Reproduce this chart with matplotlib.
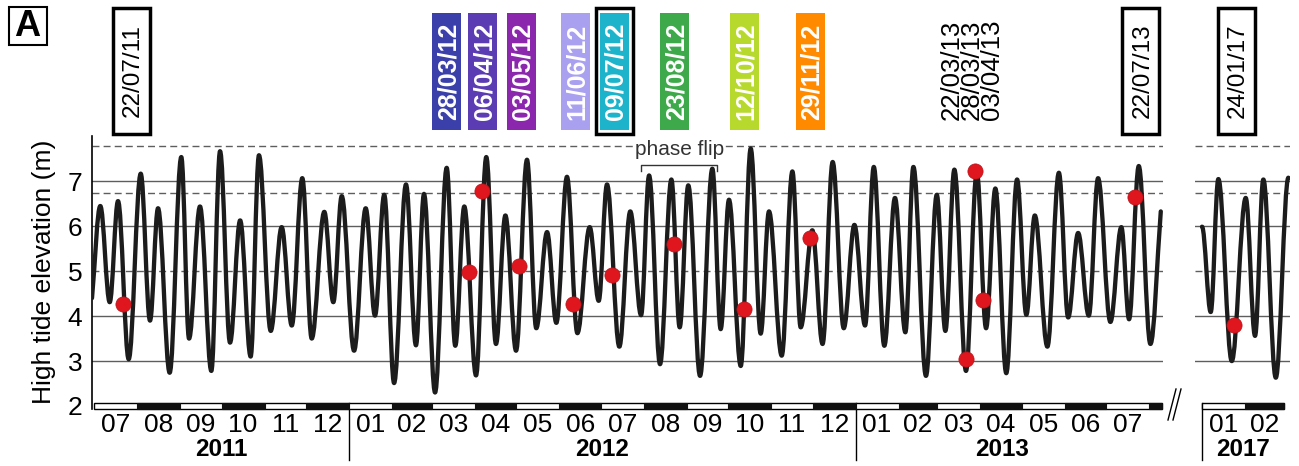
import numpy as np
import pandas as pd
import matplotlib
matplotlib.use('Agg')
import matplotlib.pyplot as plt
from matplotlib.patches import Rectangle, PathPatch
from matplotlib.path import Path
from matplotlib.lines import Line2D
import matplotlib.transforms as mtransforms

plt.rcParams['font.family'] = ['Liberation Sans', 'DejaVu Sans']

# ------------------------------------------------------------------ data
main_start = '2011-07-01'
p2_start = '2017-01-01'

# turning points of the predicted high-tide curve (days since 2011-07-01, m)
main_days = [-1.6, 4.4, 11.2, 17.2, 24.9, 33.6, 40.3, 46.1, 54.5, 62.9, 68.5, 76.4, 84.6,
             90.9, 98.1, 105.4, 113.0, 119.0, 127.5, 135.4, 142.7, 150.3, 157.1, 166.2,
             172.7, 178.8, 187.7, 196.1, 202.8, 209.5, 216.6, 225.2, 232.4, 238.2, 246.2,
             254.6, 260.8, 267.3, 275.8, 283.2, 290.2, 297.0, 304.7, 312.6, 319.3, 327.1,
             333.8, 341.5, 349.0, 357.9, 364.4, 370.4, 379.3, 387.2, 395.0, 400.8, 408.7,
             416.9, 422.9, 429.1, 437.6, 446.5, 452.5, 458.5, 467.0, 474.2, 481.4, 487.4,
             496.6, 504.3, 510.3, 518.7, 526.1, 533.4, 541.4, 549.1, 556.8, 563.1, 570.7,
             578.4, 585.9, 591.7, 600.8, 608.6, 614.8, 621.3, 629.7, 637.5, 644.2, 650.9,
             658.8, 666.6, 673.3, 679.4, 688.5, 696.8, 703.5, 710.7, 718.4, 725.1, 734.0,
             741.9, 747.5, 754.5, 762.9, 770.4]
main_vals = [4.40, 6.45, 4.31, 6.56, 3.04, 7.17, 3.90, 6.40, 2.74, 7.54, 3.50, 6.44, 2.78,
             7.67, 3.41, 6.13, 3.10, 7.58, 3.67, 5.98, 3.79, 7.07, 3.50, 6.32, 4.31, 6.67,
             3.23, 6.40, 4.01, 6.70, 2.51, 6.93, 3.35, 6.72, 2.30, 7.30, 3.34, 6.44, 2.68,
             7.54, 3.38, 6.24, 3.23, 7.48, 3.73, 5.87, 3.85, 7.10, 3.62, 5.98, 4.34, 6.93,
             3.32, 6.33, 4.02, 7.13, 2.93, 7.04, 3.75, 6.91, 2.67, 7.28, 3.71, 6.59, 2.89,
             7.73, 3.61, 6.33, 3.12, 7.22, 3.75, 5.91, 3.38, 7.43, 3.73, 6.03, 3.79, 7.32,
             3.34, 6.63, 3.64, 7.32, 2.67, 6.70, 3.67, 7.26, 2.78, 7.21, 3.73, 6.84, 2.73,
             7.04, 4.03, 6.24, 3.32, 7.19, 3.97, 5.85, 4.01, 7.07, 3.87, 5.98, 3.93, 7.34,
             3.38, 6.33]

# 2017 panel turning points (days since 2017-01-01, m)
p2_days = [0.0, 6.3, 11.8, 21.5, 31.6, 38.3, 44.3, 53.3, 62.4]
p2_vals = [5.99, 4.09, 7.05, 3.00, 6.63, 3.56, 7.04, 2.63, 7.08]

# sampled dates (red dots)
dot_dates = ['2011-07-22', '2012-03-28', '2012-04-06', '2012-05-03', '2012-06-11',
             '2012-07-09', '2012-08-23', '2012-10-12', '2012-11-29', '2013-03-22',
             '2013-03-28', '2013-04-03', '2013-07-22']
dot_vals = [4.27, 4.98, 6.78, 5.11, 4.27, 4.92, 5.60, 4.16, 5.73, 3.04, 7.22, 4.35, 6.66]
dot2_dates = ['2017-01-24']
dot2_vals = [3.80]

solid_levels = [3, 4, 6, 7]
dashed_levels = [5, 6.73, 7.78]
y_ticks = [2, 3, 4, 5, 6, 7]

# top date labels: text, position (days since 2011-07-01), fill colour
top_labels = ['22/07/11', '28/03/12', '06/04/12', '03/05/12', '11/06/12', '09/07/12',
              '23/08/12', '12/10/12', '29/11/12', '22/07/13']
top_label_days = [26.6, 254.8, 280.8, 308.3, 347.3, 375.5, 419.5, 469.4, 517.1, 756.1]
top_label_colors = [None, '#3b3fa9', '#5b3cb3', '#8a27ad', '#aaa0f0', '#1db4cb',
                    '#3da94a', '#b7d82d', '#ff8a00', None]
top_label_framed = [True, False, False, False, False, True, False, False, False, True]
plain_labels = ['22/03/13', '28/03/13', '03/04/13']
plain_label_day = 632.8
p2_label = '24/01/17'
p2_label_day = 24.6

phase_flip_days = [394.8, 450.1]
year_names = ['2011', '2012', '2013']
year_spans = [('2011-07-01', '2012-01-01'), ('2012-01-01', '2013-01-01'),
              ('2013-01-01', '2013-08-01')]

# ------------------------------------------------------------------ layout
W, H = 1299, 466
fig = plt.figure(figsize=(W / 100, H / 100), dpi=100)
AX_BOT, AX_TOP = 409, 136
ylim = (1.933, 8.008)
ax1 = fig.add_axes([92 / W, 1 - AX_BOT / H, (1163 - 92) / W, (AX_BOT - AX_TOP) / H])
ax2 = fig.add_axes([1195 / W, 1 - AX_BOT / H, (1290 - 1195) / W, (AX_BOT - AX_TOP) / H])
ax1.set_xlim(-1.6, 772.0)
ax2.set_xlim(-5.06, 63.56)
for ax in (ax1, ax2):
    ax.set_ylim(*ylim)
    for s in ax.spines.values():
        s.set_visible(False)
    ax.set_facecolor('none')

ax1.spines['left'].set_visible(True)
ax1.spines['left'].set_linewidth(1.2)

LINE_C = '#1c1c1c'
GRID_C = '#5e5e5e'
FS = 19


def days_since(dates, origin):
    return list((pd.to_datetime(dates) - pd.Timestamp(origin)).days)


def bezier_curve(days, vals, **kw):
    a = 0.363
    verts = [(days[0], vals[0])]
    codes = [Path.MOVETO]
    n = len(days)
    for i in range(n - 1):
        x0, y0, x1, y1 = days[i], vals[i], days[i + 1], vals[i + 1]
        dx, dy = x1 - x0, y1 - y0
        p1 = (x0 + a * dx, y0 + (a * dy if i == 0 and kw.get('free_start') else 0))
        p2 = (x1 - a * dx, y1 - (a * dy if i == n - 2 and kw.get('free_end') else 0))
        verts += [p1, p2, (x1, y1)]
        codes += [Path.CURVE4] * 3
    return PathPatch(Path(verts, codes), fill=False, lw=3.1, edgecolor=LINE_C,
                     capstyle='round', joinstyle='round', zorder=3)


def draw_strip(ax, first, last_month, strip_end):
    months = pd.date_range(first, last_month, freq='MS')
    starts = days_since(months, first)
    y0, y1 = 1.933, 2.067
    ax.add_patch(Rectangle((starts[0], y0), strip_end - starts[0], y1 - y0, facecolor='white',
                           edgecolor='black', lw=1.0, clip_on=False, zorder=4))
    for m, s in zip(months, starts):
        e = min(s + m.days_in_month, strip_end)
        if m.month % 2 == 0:
            ax.add_patch(Rectangle((s, y0), e - s, y1 - y0, facecolor='#111111',
                                   edgecolor='#111111', lw=0.8, clip_on=False, zorder=5))
    return months, starts


# ------------------------------------------------------------------ grid
for ax in (ax1, ax2):
    for lv in solid_levels:
        ax.axhline(lv, color=GRID_C, lw=1.0, zorder=1)
    for lv in dashed_levels:
        ax.axhline(lv, color=GRID_C, lw=1.0, ls=(0, (5, 3)), zorder=1)

# ------------------------------------------------------------------ curves
ax1.add_patch(bezier_curve(main_days, main_vals, free_start=True, free_end=True))
ax2.add_patch(bezier_curve(p2_days, p2_vals))

ax1.scatter(days_since(dot_dates, main_start), dot_vals, s=120, color='#e0161e',
            edgecolor='#b51218', lw=0.5, zorder=6)
ax2.scatter(days_since(dot2_dates, p2_start), dot2_vals, s=120, color='#e0161e',
            edgecolor='#b51218', lw=0.5, zorder=6)

# ------------------------------------------------------------------ strips / x labels
months1, starts1 = draw_strip(ax1, main_start, '2013-08-01', 771.6)
months2, starts2 = draw_strip(ax2, p2_start, '2017-02-01', 59.0)

lab_m1 = [(s + m.days_in_month / 2, m.strftime('%m')) for m, s in zip(months1, starts1)
          if m < pd.Timestamp('2013-08-01')]
ax1.set_xticks([c for c, _ in lab_m1])
ax1.set_xticklabels([l for _, l in lab_m1])
lab_m2 = [(s + m.days_in_month / 2, m.strftime('%m')) for m, s in zip(months2, starts2)]
ax2.set_xticks([c for c, _ in lab_m2])
ax2.set_xticklabels([l for _, l in lab_m2])
for ax in (ax1, ax2):
    ax.tick_params(axis='x', length=0, pad=3, labelsize=FS)

ax1.set_yticks(y_ticks)
ax1.tick_params(axis='y', length=0, pad=7, labelsize=FS)
ax2.set_yticks([])

fig.text(44 / W, 1 - 272 / H, 'High tide elevation (m)', rotation=90, ha='center',
         va='center', fontsize=FS)

# years
yb = mtransforms.blended_transform_factory(ax1.transData, ax1.transAxes)
yb2 = mtransforms.blended_transform_factory(ax2.transData, ax2.transAxes)
y_year = (AX_BOT - 449) / (AX_BOT - AX_TOP)
y_sep_top = (AX_BOT - 403) / (AX_BOT - AX_TOP)
y_sep_bot = (AX_BOT - 460) / (AX_BOT - AX_TOP)
for name, (a, b) in zip(year_names, year_spans):
    da, db = days_since([a, b], main_start)
    ax1.text((da + db) / 2, y_year, name, transform=yb, ha='center', va='center',
             fontsize=17.5, fontweight='bold')
for a, _ in year_spans[1:]:
    d = days_since([a], main_start)[0]
    ax1.add_line(Line2D([d, d], [y_sep_top, y_sep_bot], transform=yb, color='black',
                        lw=1.0, clip_on=False))
ax2.text(29.5, y_year, '2017', transform=yb2, ha='center', va='center', fontsize=17.5,
         fontweight='bold')
ax2.add_line(Line2D([0, 0], [y_sep_top, y_sep_bot], transform=yb2, color='black', lw=1.0,
                    clip_on=False))

# axis break marks
for dx in (0, 5):
    fig.add_artist(Line2D([(1168 + dx) / W, (1176 + dx) / W], [1 - 420 / H, 1 - 389 / H],
                          color='black', lw=1.0))

# phase flip
ax1.text(sum(phase_flip_days) / 2, 7.70, 'phase flip', ha='center', va='center', fontsize=15,
         color='#333333', zorder=4, bbox=dict(facecolor='white', edgecolor='none', pad=0.5))
pf0, pf1 = phase_flip_days
ax1.plot([pf0, pf0, pf1, pf1], [7.22, 7.36, 7.36, 7.22], color='#333333', lw=1.0, zorder=4)

# ------------------------------------------------------------------ top labels
fig.canvas.draw()


def xpix(ax, d):
    return ax.transData.transform((d, 0))[0]


def add_rect(xc, width, top, bot, face, edge, lw):
    fig.add_artist(Rectangle(((xc - width / 2) / W, 1 - bot / H), width / W, (bot - top) / H,
                             transform=fig.transFigure, facecolor=face, edgecolor=edge,
                             lw=lw))


for txt, d, col, framed in zip(top_labels, top_label_days, top_label_colors,
                               top_label_framed):
    xc = xpix(ax1, d)
    if framed:
        add_rect(xc, 37, 8, 134, 'white', 'black', 2.5)
    if col is None:
        fig.text((xc + 1.5) / W, 1 - 71 / H, txt, rotation=90, ha='center', va='center',
                 fontsize=17.5, color='black')
    else:
        add_rect(xc, 29, 13, 130, col, 'none', 0)
        fig.text((xc + 1.5) / W, 1 - 71.5 / H, txt, rotation=90, ha='center', va='center',
                 fontsize=18, fontweight='bold', color='white')

xc = xpix(ax1, plain_label_day)
fig.text((xc + 1.5) / W, 1 - 70 / H, '\n'.join(plain_labels), rotation=90, ha='center',
         va='center', fontsize=18.5, linespacing=0.8, color='black')

xc = xpix(ax2, p2_label_day)
add_rect(xc, 37, 8, 134, 'white', 'black', 2.5)
fig.text((xc + 1.5) / W, 1 - 71 / H, p2_label, rotation=90, ha='center', va='center',
         fontsize=17.5, color='black')

# panel letter
add_rect(27.5, 38, 7, 45, 'white', 'black', 1.5)
fig.text(27.5 / W, 1 - 26.5 / H, 'A', ha='center', va='center', fontsize=26,
         fontweight='bold')

fig.savefig('out.png', dpi=100)
